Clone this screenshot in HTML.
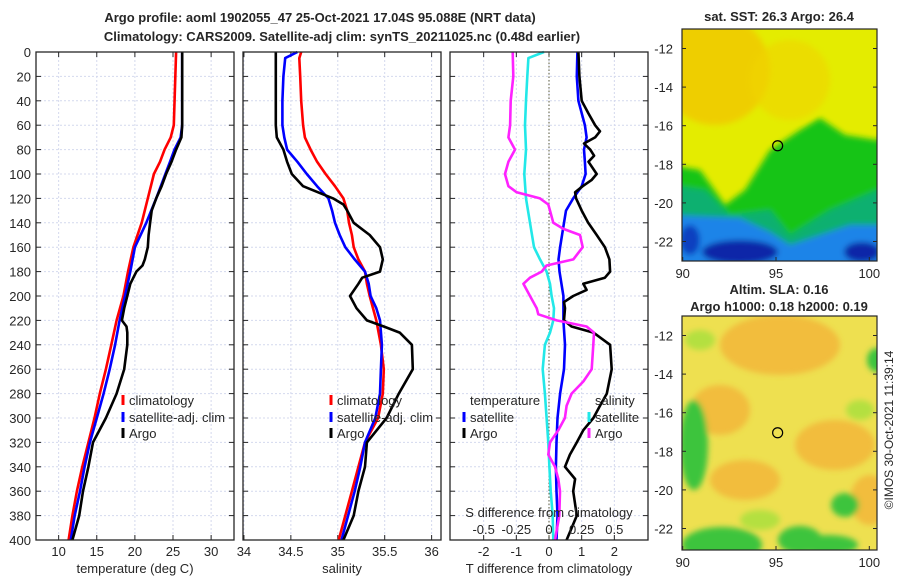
<!DOCTYPE html>
<html><head><meta charset="utf-8">
<style>
body{margin:0;background:#fff;}
svg{display:block;font-family:"Liberation Sans","DejaVu Sans",sans-serif;}
text{fill:#262626;}
</style></head>
<body>
<svg id="chart" width="900" height="580" viewBox="0 0 900 580">
<g>
<text x="320" y="22" font-size="13" font-weight="bold" text-anchor="middle" fill="#000">Argo profile: aoml 1902055_47 25-Oct-2021 17.04S 95.088E (NRT data)</text>
<text x="342" y="41" font-size="13" font-weight="bold" text-anchor="middle" fill="#000">Climatology: CARS2009. Satellite-adj clim: synTS_20211025.nc (0.48d earlier)</text>
</g>
<g id="panels"></g>
<g id="maps"></g>
<text transform="translate(893,430) rotate(-90)" font-size="12" text-anchor="middle" fill="#000">©IMOS 30-Oct-2021 11:39:14</text>
</svg>
<script>
// ---------------- data ----------------
const depthTicks=[0,20,40,60,80,100,120,140,160,180,200,220,240,260,280,300,320,340,360,380,400];
// temperature panel
const tempTicks=[10,15,20,25,30];
const tClimDepth=[0,60,70,80,90,100,120,140,160,180,200,220,240,260,280,300,320,340,360,380,400];
const tClim=[25.4,25.1,24.7,23.9,23.3,22.5,21.7,20.9,19.8,19.1,18.5,17.6,16.9,16.2,15.4,14.7,13.9,13.1,12.4,11.8,11.3];
const tSatDepth=[0,60,70,80,90,100,120,140,160,180,200,220,240,260,280,300,320,340,360,380,400];
const tSat=[26.2,26.2,26.0,25.2,24.6,24.0,22.8,21.5,20.0,19.4,18.7,18.0,17.4,16.7,15.9,15.0,14.1,13.4,12.8,12.1,11.6];
const tArgoDepth=[0,60,70,80,90,100,110,120,130,140,150,160,170,175,180,190,200,210,220,225,230,240,260,280,300,320,340,360,380,400];
const tArgo=[26.2,26.2,26.1,25.4,24.8,24.1,23.5,22.8,22.2,22.0,21.8,21.7,21.3,21.0,20.2,19.4,19.0,18.6,18.3,18.9,19.0,19.0,18.6,17.6,16.2,14.5,13.9,13.2,12.7,11.8];
// salinity panel
const salTicks=[34,34.5,35,35.5,36];
const salTickLabels=["34","34.5","35","35.5","36"];
const sClimDepth=[0,5,20,40,60,70,80,90,100,110,120,130,140,150,160,170,180,190,200,220,240,260,280,300,320,340,360,380,400];
const sClim=[34.61,34.59,34.60,34.61,34.63,34.65,34.71,34.78,34.87,34.97,35.06,35.10,35.12,35.15,35.17,35.22,35.29,35.31,35.34,35.41,35.46,35.49,35.48,35.43,35.29,35.22,35.15,35.08,35.01];
const sSatDepth=[0,5,20,40,60,70,80,90,100,110,120,130,140,150,160,170,180,190,200,210,220,240,260,280,300,320,340,360,380,400];
const sSat=[34.57,34.44,34.42,34.41,34.41,34.43,34.46,34.57,34.67,34.78,34.90,34.94,34.97,35.02,35.08,35.18,35.29,35.33,35.35,35.41,35.45,35.47,35.46,35.45,35.40,35.29,35.24,35.18,35.11,35.04];
const sArgoDepth=[0,60,70,80,90,100,110,120,125,130,140,150,160,170,180,185,190,200,210,220,225,230,240,260,280,300,320,340,360,380,400];
const sArgo=[34.34,34.34,34.35,34.42,34.46,34.51,34.63,34.95,35.06,35.10,35.17,35.34,35.45,35.48,35.45,35.26,35.22,35.13,35.20,35.31,35.49,35.66,35.79,35.80,35.65,35.52,35.31,35.29,35.22,35.17,35.06];
// difference panel
const tdTicks=[-2,-1,0,1,2];
const sdTicks=[-0.5,-0.25,0,0.25,0.5];
const sdTickLabels=["-0.5","-0.25","0","0.25","0.5"];
const dTSatDepth=[0,20,40,60,70,80,90,100,110,120,130,140,160,170,180,200,220,240,260,280,300,320,340,360,380,400];
const dTSat=[0.87,0.85,0.90,1.10,1.15,1.07,1.10,1.12,1.00,0.74,0.52,0.46,0.34,0.29,0.32,0.44,0.44,0.49,0.46,0.34,0.26,0.23,0.21,0.23,0.26,0.23];
const dTArgoDepth=[0,20,40,50,60,65,70,75,80,85,90,100,105,110,115,120,130,140,150,160,170,180,185,190,195,200,205,210,220,225,230,240,260,280,290,300,310,320,330,340,350,360,380,400];
const dTArgo=[0.90,0.93,1.00,1.20,1.41,1.56,1.41,1.07,1.26,1.38,1.21,1.46,1.30,1.03,0.80,0.83,1.00,1.20,1.46,1.71,1.85,1.87,1.71,1.05,1.15,0.74,0.46,0.49,0.46,0.69,1.36,1.87,1.92,1.77,1.56,1.36,1.05,0.85,0.64,0.49,0.80,0.74,0.85,0.54];
const dSSatDepth=[0,5,20,40,60,80,100,120,140,160,170,180,190,200,210,220,230,240,260,280,300,320,340,360,380,400];
const dSSat=[-0.038,-0.158,-0.166,-0.176,-0.184,-0.176,-0.189,-0.176,-0.145,-0.115,-0.069,-0.018,0.008,0.020,0.038,0.033,0.008,-0.031,-0.048,-0.031,-0.018,-0.005,0.003,0.013,0.028,0.033];
const dSArgoDepth=[0,20,40,60,70,80,90,100,110,115,120,125,130,140,145,150,160,170,175,180,185,190,200,210,215,220,225,230,240,260,270,280,290,300,310,320,330,340,350,360,380,400];
const dSArgo=[-0.278,-0.273,-0.293,-0.298,-0.311,-0.260,-0.311,-0.337,-0.311,-0.247,-0.069,-0.005,0.008,0.033,0.110,0.237,0.258,0.186,-0.018,-0.056,-0.145,-0.196,-0.145,-0.094,-0.082,0.059,0.288,0.344,0.339,0.327,0.263,0.173,0.135,0.122,0.071,0.008,-0.005,0.046,0.071,0.084,0.079,0.046];
// maps
const mapLatTicks=[-12,-14,-16,-18,-20,-22];
const mapLonTicks=[90,95,100];
const argoLon=95.088, argoLat=-17.04;

// ---------------- helpers ----------------
const NS="http://www.w3.org/2000/svg";
function mk(tag,attrs,parent){const e=document.createElementNS(NS,tag);for(const k in attrs)e.setAttribute(k,attrs[k]);if(parent)parent.appendChild(e);return e;}
const PT=52, PB=540;
function yD(d){return PT+(d-0)/(400-0)*(PB-PT);}
function linScale(d0,d1,r0,r1){return v=>r0+(v-d0)/(d1-d0)*(r1-r0);}
const panelsG=document.getElementById('panels');
const GRID='#d4d9ee';

function drawPanel(name,x0,x1,xs,xticks,xlabels,xtitle){
  const g=mk('g',{},panelsG);
  
  
  xticks.forEach(t=>{const l=mk('line',{x1:xs(t),x2:xs(t),y1:PT,y2:PB,stroke:GRID,'stroke-width':1,'stroke-dasharray':'2,2'},g);
    
    });
  depthTicks.forEach(d=>{const l=mk('line',{x1:x0,x2:x1,y1:yD(d),y2:yD(d),stroke:GRID,'stroke-width':1,'stroke-dasharray':'2,2'},g);
    
    
    mk('line',{x1:x0,x2:x0+5,y1:yD(d),y2:yD(d),stroke:'#262626'},g);
    mk('line',{x1:x1-5,x2:x1,y1:yD(d),y2:yD(d),stroke:'#262626'},g);});
  xticks.forEach((t,i)=>{mk('line',{x1:xs(t),x2:xs(t),y1:PB-5,y2:PB,stroke:'#262626'},g);
    mk('line',{x1:xs(t),x2:xs(t),y1:PT,y2:PT+5,stroke:'#262626'},g);
    if(xlabels){const tx=mk('text',{x:xs(t),y:556,'font-size':13,'text-anchor':'middle'},g);tx.textContent=xlabels[i];
      
      }});
  const tt=mk('text',{x:(x0+x1)/2,y:573,'font-size':13,'text-anchor':'middle'},g);tt.textContent=xtitle;
  
  
  return g;
}
function drawFrame(g,x0,x1){const r=mk('rect',{x:x0,y:PT,width:x1-x0,height:PB-PT,fill:'none',stroke:'#262626','stroke-width':1.3},g);
  
  }
function line(g,xs,depths,vals,color,name){
  const pts=depths.map((d,i)=>xs(vals[i]).toFixed(1)+','+yD(d).toFixed(1)).join(' ');
  const p=mk('polyline',{points:pts,fill:'none',stroke:color,'stroke-width':2.6,'stroke-linejoin':'round'},g);
  
  
}
function legendEntry(g,x,y,color,label){
  const gg=mk('g',{},g);
  
  
  if(color) mk('line',{x1:x,x2:x,y1:y-10,y2:y,stroke:color,'stroke-width':3},gg);
  const t=mk('text',{x:x+6,y:y,'font-size':13,fill:'#000'},gg);t.textContent=label;
}

depthTicks.forEach(d=>{const t=mk('text',{x:31,y:yD(d)+5,'font-size':13,'text-anchor':'end'},panelsG);t.textContent=d;
  
  });

const xT=linScale(7.03,33.0,36,234);
const g1=drawPanel('temperature',36,234,xT,tempTicks,tempTicks.map(String),'temperature (deg C)');
line(g1,xT,tClimDepth,tClim,'#ff0000','temp-climatology-line');
line(g1,xT,tSatDepth,tSat,'#0000ff','temp-satellite-line');
line(g1,xT,tArgoDepth,tArgo,'#000000','temp-argo-line');
drawFrame(g1,36,234);
legendEntry(g1,123,405,'#ff0000','climatology');
legendEntry(g1,123,422,'#0000ff','satellite-adj. clim');
legendEntry(g1,123,438,'#000000','Argo');

const xS=linScale(33.99,36.1,243,441);
const g2=drawPanel('salinity',243,441,xS,salTicks,salTickLabels,'salinity');
line(g2,xS,sClimDepth,sClim,'#ff0000','sal-climatology-line');
line(g2,xS,sSatDepth,sSat,'#0000ff','sal-satellite-line');
line(g2,xS,sArgoDepth,sArgo,'#000000','sal-argo-line');
drawFrame(g2,243,441);
legendEntry(g2,331,405,'#ff0000','climatology');
legendEntry(g2,331,422,'#0000ff','satellite-adj. clim');
legendEntry(g2,331,438,'#000000','Argo');

const xTD=linScale(-3.03,3.03,450,648);
const xSD=linScale(-0.7575,0.7575,450,648);
const g3=drawPanel('difference',450,648,xTD,tdTicks,tdTicks.map(String),'T difference from climatology');
const zl=mk('line',{x1:xTD(0),x2:xTD(0),y1:PT,y2:PB,stroke:'#5a5a3a','stroke-width':1,'stroke-dasharray':'1.5,2'},g3);


line(g3,xSD,dSSatDepth,dSSat,'#22e8e8','sdiff-satellite-line');
line(g3,xTD,dTSatDepth,dTSat,'#0000ff','tdiff-satellite-line');
line(g3,xTD,dTArgoDepth,dTArgo,'#000000','tdiff-argo-line');
line(g3,xSD,dSArgoDepth,dSArgo,'#ff22ff','sdiff-argo-line');
drawFrame(g3,450,648);
legendEntry(g3,464,405,null,'temperature');
legendEntry(g3,464,422,'#0000ff','satellite');
legendEntry(g3,464,438,'#000000','Argo');
legendEntry(g3,589,405,null,'salinity');
legendEntry(g3,589,422,'#22e8e8','satellite');
legendEntry(g3,589,438,'#ff22ff','Argo');
const sdt=mk('text',{x:549,y:517,'font-size':13,'text-anchor':'middle',fill:'#000'},g3);sdt.textContent='S difference from climatology';


sdTicks.forEach((t,i)=>{const tx=mk('text',{x:xSD(t),y:534,'font-size':13,'text-anchor':'middle',fill:'#000'},g3);tx.textContent=sdTickLabels[i];
  
  });

// ---------------- maps ----------------
const mapsG=document.getElementById('maps');
const defs=mk('defs',{},mapsG);
const f=mk('filter',{id:'blur',x:'-20%',y:'-20%',width:'140%',height:'140%'},defs);
mk('feGaussianBlur',{stdDeviation:3},f);
function drawMap(name,top,bottom,title1,title2,draw){
  const g=mk('g',{},mapsG);
  
  
  const x0=682,x1=877;
  const lonS=linScale(90,100,682.7,869.3);
  const latS=linScale(-12,-22,top+19.5,top+19.5+193);
  const cp=mk('clipPath',{id:'clip-'+name},defs);mk('rect',{x:x0,y:top,width:x1-x0,height:bottom-top},cp);
  const inner=mk('g',{'clip-path':'url(#clip-'+name+')'},g);
  draw(inner,x0,x1,top,bottom);
  const c=mk('circle',{cx:lonS(argoLon),cy:latS(argoLat),r:5,fill:'none',stroke:'#000','stroke-width':1.2},g);
  
  
  mk('rect',{x:x0,y:top,width:x1-x0,height:bottom-top,fill:'none',stroke:'#262626','stroke-width':1.2},g);
  mapLatTicks.forEach(v=>{const y=latS(v);mk('line',{x1:x0,x2:x0+4,y1:y,y2:y,stroke:'#262626'},g);mk('line',{x1:x1-4,x2:x1,y1:y,y2:y,stroke:'#262626'},g);
    const t=mk('text',{x:673,y:y+5,'font-size':13,'text-anchor':'end'},g);t.textContent=v;
    
    });
  mapLonTicks.forEach(v=>{const x=lonS(v);mk('line',{x1:x,x2:x,y1:bottom-4,y2:bottom,stroke:'#262626'},g);
    const t=mk('text',{x:x,y:bottom+17,'font-size':13,'text-anchor':'middle'},g);t.textContent=v;
    
    });
  title1&&(()=>{const t=mk('text',{x:779,y:top-title1[1],'font-size':13,'font-weight':'bold','text-anchor':'middle',fill:'#000'},g);t.textContent=title1[0];
    
    })();
  title2&&(()=>{const t=mk('text',{x:779,y:top-title2[1],'font-size':13,'font-weight':'bold','text-anchor':'middle',fill:'#000'},g);t.textContent=title2[0];
    
    })();
}
drawMap('sst-map',29,261,['sat. SST: 26.3 Argo: 26.4',8],null,(g)=>{
  mk('rect',{x:670,y:20,width:220,height:250,fill:'#e4ec00'},g);
  const b=mk('g',{filter:'url(#blur)'},g);
  mk('ellipse',{cx:715,cy:70,rx:55,ry:55,fill:'#f2c400',opacity:0.75},b);
  mk('ellipse',{cx:790,cy:80,rx:40,ry:40,fill:'#f0d400',opacity:0.6},b);
  mk('polygon',{points:'670,165 700,170 725,205 745,190 770,150 800,130 820,118 845,135 877,140 890,135 890,270 670,270',fill:'#12c412'},b);
  mk('polygon',{points:'670,185 705,190 730,215 770,210 790,235 830,210 877,190 890,190 890,270 670,270',fill:'#10b070'},b);
  mk('polygon',{points:'670,215 740,218 770,232 790,245 820,235 850,225 877,225 890,225 890,270 670,270',fill:'#1c84e8'},b);
  mk('ellipse',{cx:740,cy:252,rx:38,ry:12,fill:'#0a28a8'},b);
  mk('ellipse',{cx:862,cy:252,rx:18,ry:10,fill:'#0a28a8'},b);
  mk('ellipse',{cx:690,cy:240,rx:10,ry:15,fill:'#0a40c0'},b);
});
drawMap('sla-map',316,550,['Altim. SLA: 0.16',22],['Argo h1000: 0.18 h2000: 0.19',5],(g)=>{
  mk('rect',{x:670,y:300,width:220,height:260,fill:'#eee050'},g);
  const b=mk('g',{filter:'url(#blur)'},g);
  [[780,345,60,30],[835,445,40,25],[745,480,35,20],[720,410,30,25],[870,500,20,25]].forEach(e=>mk('ellipse',{cx:e[0],cy:e[1],rx:e[2],ry:e[3],fill:'#f2b43a',opacity:0.8},b));
  [[694,445,14,45],[722,545,40,18],[800,540,22,14],[845,505,14,12],[877,360,10,12],[828,545,30,10]].forEach(e=>mk('ellipse',{cx:e[0],cy:e[1],rx:e[2],ry:e[3],fill:'#3cc43c'},b));
  [[760,520,20,10],[700,340,15,10],[860,410,14,10]].forEach(e=>mk('ellipse',{cx:e[0],cy:e[1],rx:e[2],ry:e[3],fill:'#b4e040'},b));
});
</script>
</body></html>
